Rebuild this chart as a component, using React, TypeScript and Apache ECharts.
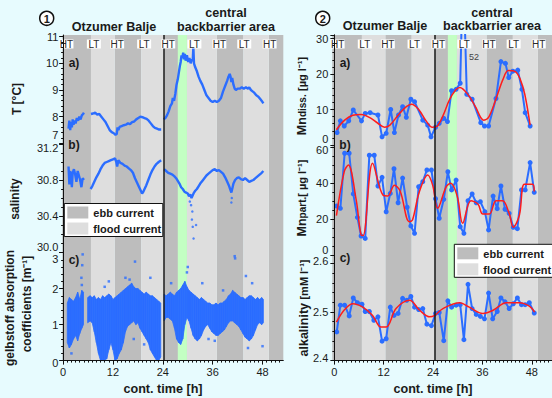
import React, { useEffect, useRef } from 'react';
import * as echarts from 'echarts';

// ---------------- shared tide information ----------------
const tideLabels = ['HT', 'LT', 'HT', 'LT', 'HT', 'LT', 'HT', 'LT', 'HT'];
const tideLabelHours = [0.8, 7.4, 13.0, 19.5, 25.3, 31.6, 37.6, 43.6, 49.7];
const ebbBands = [[-1, 6.7], [12.4, 18.8], [24.3, 29.8], [37.0, 43.4], [49.5, 60]];
const floodBands = [[6.7, 12.4], [18.8, 24.3], [29.8, 37.0], [43.4, 49.5]];
const greenBand = [27.6, 29.8];
const stationChange = 24.3;
const xTickLabels = [0, 12, 24, 36, 48];
const xMinorTicks = [1,2,3,4,5,6,7,8,9,10,11,13,14,15,16,17,18,19,20,21,22,23,25,26,27,28,29,30,31,32,33,34,35,37,38,39,40,41,42,43,44,45,46,47,49,50,51,52];

// ---------------- panel 1 : a) temperature ----------------
const temp1 = [[1.3,7.55],[1.5,7.85],[1.7,7.5],[1.9,7.8],[2.1,7.6],[2.3,7.9],[2.5,7.7],[2.8,7.85],[3.0,7.75],[3.3,7.95],[3.6,7.85],[3.9,8.0],[4.2,7.9],[4.5,8.05],[4.8,8.1],[5.0,8.15]];
const temp2 = [[6.7,8.1],[7.2,8.12],[7.7,8.15],[8.2,8.08],[8.7,8.1],[9.2,8.0],[9.7,7.9],[10.2,7.8],[10.7,7.65],[11.2,7.5],[11.7,7.42],[12.2,7.38],[12.6,7.32],[12.9,7.35],[13.1,7.6],[13.3,7.5],[13.6,7.62],[14.1,7.65],[14.6,7.68],[15.1,7.7],[15.6,7.75],[16.1,7.72],[16.6,7.8],[17.1,7.82],[17.6,7.9],[18.1,7.95],[18.6,8.0],[19.1,7.98],[19.6,7.95],[20.1,7.92],[20.6,7.85],[21.1,7.75],[21.6,7.65],[22.1,7.58],[22.6,7.55],[23.1,7.52],[23.6,7.52]];
const temp3 = [[24.2,7.9],[24.6,7.95],[25.0,8.05],[25.4,8.2],[25.8,8.4],[26.2,8.5],[26.4,8.7],[26.7,8.6],[27.0,8.85],[27.3,9.2],[27.6,9.4],[27.9,9.7],[28.1,9.9],[28.3,10.05],[28.5,10.3],[28.7,10.2],[28.9,10.4],[29.1,10.15],[29.3,10.35],[29.5,10.1],[29.8,10.3],[30.1,10.05],[30.4,10.2],[30.7,10.0],[31.0,10.15],[31.2,10.1],[31.35,10.6],[31.5,10.0],[31.8,9.85],[32.2,9.7],[32.6,9.5],[33.0,9.35],[33.5,9.2],[34.0,9.0],[34.5,8.8],[35.0,8.7],[35.5,8.6],[36.0,8.55],[36.5,8.6],[37.0,8.55],[37.5,8.6],[38.0,8.7],[38.5,8.95],[39.0,9.15],[39.5,9.35],[39.8,9.5],[40.1,9.6],[40.3,9.5],[40.5,9.3],[40.7,9.45],[41.0,9.2],[41.3,9.05],[41.6,9.0],[42.0,9.05],[42.5,9.05],[43.0,9.1],[43.5,9.05],[44.0,9.1],[44.5,9.05],[44.8,9.1],[45.2,9.0],[45.6,8.95],[46.0,8.9],[46.5,8.8],[47.0,8.75],[47.5,8.65],[48.0,8.55],[48.2,8.5]];

// ---------------- panel 1 : b) salinity ----------------
const sal1 = [[1.3,30.95],[1.5,30.75],[1.7,30.9],[1.9,30.85],[2.1,30.72],[2.3,30.88],[2.6,30.92],[2.9,30.86],[3.2,30.78],[3.5,30.9],[3.8,30.85],[4.1,30.8],[4.4,30.72],[4.7,30.82],[5.0,30.8]];
const sal2 = [[6.6,30.7],[7.0,30.73],[7.5,30.78],[8.0,30.83],[8.5,30.87],[9.0,30.92],[9.5,30.96],[10.0,30.99],[10.5,31.0],[11.0,31.01],[11.5,31.02],[12.0,31.03],[12.5,31.04],[12.8,31.0],[13.0,30.95],[13.3,31.02],[13.8,30.99],[14.3,30.98],[14.8,30.96],[15.3,30.95],[15.8,30.93],[16.3,30.91],[16.8,30.88],[17.3,30.82],[17.8,30.77],[18.3,30.72],[18.7,30.68],[19.0,30.65],[19.3,30.67],[19.6,30.7],[20.0,30.74],[20.5,30.8],[21.0,30.86],[21.5,30.91],[22.0,30.95],[22.5,30.98],[23.0,31.0],[23.6,31.02]];
const sal3 = [[24.3,30.92],[24.8,30.9],[25.3,30.88],[25.8,30.87],[26.3,30.86],[26.8,30.84],[27.2,30.82],[27.6,30.79],[28.0,30.76],[28.4,30.72],[28.8,30.7],[29.2,30.67],[29.6,30.66],[30.0,30.65],[30.3,30.62],[30.6,30.64],[30.9,30.6],[31.2,30.63],[31.5,30.66],[31.8,30.68],[32.2,30.7],[32.6,30.73],[33.0,30.76],[33.5,30.79],[34.0,30.82],[34.5,30.85],[35.0,30.87],[35.5,30.89],[36.0,30.91],[36.5,30.92],[37.0,30.9],[37.5,30.91],[38.0,30.89],[38.5,30.87],[39.0,30.83],[39.5,30.78],[39.9,30.74],[40.2,30.7],[40.5,30.66],[40.7,30.7],[41.0,30.76],[41.4,30.8],[41.8,30.82],[42.3,30.83],[42.8,30.81],[43.3,30.8],[43.8,30.82],[44.3,30.8],[44.8,30.78],[45.3,30.79],[45.8,30.8],[46.3,30.82],[46.8,30.84],[47.3,30.86],[47.8,30.88],[48.2,30.9]];
const salOutliers = [[31.0,30.36],[31.2,30.28],[31.4,30.15],[32.0,30.3],[31.1,30.45],[30.8,30.52],[30.5,30.56],[40.5,30.55],[40.6,30.6]];

// ---------------- panel 1 : c) gelbstoff (range of the dense cloud) ----------------
const gelbHours1 = [1.0,1.5,2.0,2.5,3.0,3.5,4.0,4.5,4.9];
const gelbLow1 = [0.5,0.35,0.45,0.6,0.7,0.55,0.75,0.9,1.0];
const gelbHigh1 = [1.6,1.75,1.7,1.65,1.75,1.9,1.7,1.95,1.9];
const gelbHours2 = [5.9,6.5,7.0,7.5,8.0,8.5,9.0,9.5,10.0,10.5,11.0,11.5,12.0,12.5,13.0,13.5,14.0,14.5,15.0,15.5,16.0,16.5,17.0,17.5,18.0,18.5,19.0,19.5,20.0,20.5,21.0,21.5,22.0,22.5,23.0,23.5];
const gelbLow2 = [1.05,1.1,1.05,0.8,0.5,0.2,0.0,0.0,0.0,0.05,0.3,0.5,0.3,0.0,0.05,0.2,0.3,0.5,0.8,0.95,1.0,1.05,1.1,1.0,1.05,0.9,0.8,0.7,0.6,0.5,0.3,0.2,0.1,0.0,0.0,0.1];
const gelbHigh2 = [1.75,1.8,1.75,1.8,1.7,1.75,1.7,1.8,1.75,1.8,1.85,1.8,1.7,1.75,1.8,1.85,1.9,1.95,2.0,2.05,2.1,2.15,2.05,2.0,2.0,1.95,1.9,1.85,1.9,1.85,1.8,1.8,1.75,1.7,1.65,1.6];
const gelbHours3 = [24.3,24.8,25.3,25.8,26.3,26.8,27.3,27.8,28.3,28.8,29.3,29.8,30.3,30.8,31.3,31.8,32.3,32.8,33.3,33.8,34.3,34.8,35.3,35.8,36.3,36.8,37.3,37.8,38.3,38.8,39.3,39.8,40.3,40.8,41.3,41.8,42.3,42.8,43.3,43.8,44.3,44.8,45.3,45.8,46.3,46.8,47.3,47.8,48.2];
const gelbLow3 = [1.1,1.2,1.2,1.15,1.1,0.9,0.6,0.5,0.45,0.6,1.0,1.2,1.1,0.9,0.7,0.6,0.55,0.6,0.7,0.85,0.95,1.0,0.9,0.8,0.75,0.7,0.7,0.75,0.8,0.85,0.95,1.05,1.1,1.1,1.05,1.0,0.95,0.85,0.75,0.65,0.6,0.55,0.6,0.7,0.85,1.0,1.05,1.0,1.05];
const gelbHigh3 = [1.85,1.8,1.85,1.9,1.85,1.8,1.9,1.95,2.0,2.1,2.2,2.05,1.95,1.9,1.85,1.8,1.75,1.7,1.75,1.7,1.65,1.6,1.6,1.55,1.55,1.6,1.55,1.6,1.6,1.65,1.7,1.8,1.85,1.95,1.9,1.85,1.8,1.75,1.75,1.7,1.75,1.8,1.8,1.75,1.7,1.75,1.7,1.75,1.7];
const gelbScatter = [[4.6,2.65],[4.7,2.95],[4.4,2.3],[4.5,2.1],[10.0,2.05],[11.0,2.2],[15.0,2.3],[16.0,2.25],[17.3,2.75],[21.0,2.3],[26.0,2.15],[29.8,2.45],[30.0,2.6],[33.5,2.15],[38.5,1.95],[41.3,2.9],[41.4,2.84],[44.0,2.35],[45.5,2.15],[36.5,0.55],[48.0,0.4],[17.0,0.6],[19.5,0.45],[35.0,0.6],[44.5,0.35],[2.0,0.2],[12.8,0.15]];

// ---------------- panel 2 : a) dissolved Mn ----------------
const mnDiss = [[0.66,3.5],[1.46,6.8],[2.4,5.35],[3.5,6.8],[4.6,9.86],[6.6,6.8],[7.5,8.9],[8.7,9.1],[10.6,8.45],[11.6,2.3],[12.6,3.3],[13.7,10.0],[14.6,3.5],[15.6,8.45],[16.6,10.8],[17.5,7.8],[18.6,12.9],[19.5,12.2],[21.5,7.0],[22.7,5.6],[23.5,2.3],[24.6,5.0],[25.5,6.1],[26.6,7.5],[27.5,6.6],[28.5,15.3],[29.6,15.7],[30.6,17.4],[31.3,52],[32.2,14.3],[33.5,12.9],[35.6,6.3],[36.5,5.35],[37.5,5.35],[39.3,13.1],[40.5,23.5],[41.6,23.0],[42.4,19.0],[43.4,20.8],[44.6,21.1],[45.6,15.7],[46.4,9.1],[47.6,5.35]];
const mnDissFit = [[0.5,4.3],[2.5,7.0],[4.5,8.4],[6.5,8.6],[8.5,7.8],[10.5,6.2],[12.2,5.0],[13.5,5.6],[15.5,8.4],[17.5,10.8],[18.8,11.5],[20.5,10.0],[22.3,6.8],[23.8,5.0],[25.0,5.3],[26.5,8.5],[28.0,12.8],[29.5,15.5],[30.5,16.2],[32.5,14.2],[34.3,10.8],[36.3,7.0],[37.5,7.8],[39.3,13.0],[41.0,18.5],[42.3,21.0],[44.0,20.7],[45.2,18.5],[46.3,14.3],[47.6,5.6]];

// ---------------- panel 2 : b) particulate Mn ----------------
const mnPart = [[0.58,27.4],[1.46,26.1],[2.5,56.7],[3.6,56.7],[4.6,34.1],[5.6,21.1],[6.5,10.7],[7.5,9.4],[8.5,55.6],[9.7,55.6],[10.6,38.5],[11.6,43.3],[12.6,24.2],[13.6,34.4],[14.5,48.1],[15.5,29.2],[16.6,42.9],[17.7,26.7],[18.6,16.3],[19.5,12.2],[20.5,38.1],[21.5,40.9],[22.5,47.4],[23.6,47.4],[24.6,31.4],[25.5,20.6],[26.6,31.1],[27.6,46.4],[28.5,36.3],[29.6,41.8],[30.6,15.9],[31.5,12.2],[32.5,30.3],[33.5,34.1],[34.5,29.2],[35.5,29.8],[36.6,24.2],[37.5,14.1],[38.6,32.9],[39.6,25.9],[40.5,38.5],[41.5,25.6],[42.5,23.3],[43.5,15.6],[44.5,14.8],[45.5,36.3],[46.4,36.3],[47.6,51.5],[48.6,35.0]];
const mnPartFit = [[0.5,22.0],[2.4,46.5],[3.4,50.2],[5.3,30.9],[6.5,11.3],[7.0,11.0],[9.3,51.1],[11.8,33.5],[13.0,33.0],[14.6,38.9],[16.0,35.7],[18.2,18.7],[19.0,19.6],[20.6,34.8],[22.7,44.6],[23.9,39.0],[25.1,26.1],[27.2,38.1],[28.3,40.0],[29.9,32.6],[31.2,17.8],[33.2,30.3],[34.9,28.5],[36.1,22.9],[37.7,22.9],[39.3,30.3],[40.9,30.3],[42.5,23.3],[43.5,15.6],[45.0,22.4],[46.2,39.5],[48.2,39.5],[48.6,35.4]];

// ---------------- panel 2 : c) alkalinity ----------------
const alk = [[0.58,2.459],[1.46,2.514],[2.5,2.514],[3.6,2.492],[4.6,2.529],[5.6,2.519],[6.7,2.516],[7.5,2.501],[8.5,2.501],[9.6,2.483],[10.6,2.49],[11.6,2.44],[12.6,2.445],[13.6,2.51],[14.5,2.493],[15.5,2.497],[16.6,2.528],[17.6,2.524],[18.6,2.532],[19.5,2.51],[20.5,2.505],[21.5,2.507],[22.5,2.475],[23.6,2.472],[24.6,2.497],[25.5,2.499],[26.6,2.441],[27.6,2.523],[28.5,2.51],[29.6,2.514],[30.6,2.515],[31.5,2.443],[32.5,2.557],[33.5,2.507],[34.5,2.495],[35.5,2.491],[36.5,2.486],[37.5,2.539],[38.5,2.486],[39.6,2.501],[40.5,2.529],[41.5,2.521],[42.5,2.507],[43.5,2.517],[44.5,2.529],[45.5,2.515],[46.4,2.515],[47.4,2.519],[48.6,2.498]];
const alkFit = [[0.5,2.479],[2.5,2.505],[4.5,2.517],[6.9,2.51],[9.3,2.493],[11.3,2.469],[12.6,2.469],[15.0,2.507],[18.3,2.524],[20.8,2.503],[23.2,2.49],[24.4,2.493],[26.4,2.507],[30.5,2.519],[32.8,2.51],[36.1,2.497],[38.5,2.503],[41.8,2.519],[45.0,2.519],[47.4,2.512],[48.7,2.5]];

// ---------------- styling ----------------
const FONT = '"Liberation Sans", Arial, Helvetica, sans-serif';
const BLUE = '#2b6dff';
const RED = '#ff1c1c';
const EBB = '#bdbdbd';
const FLOOD = '#dedede';
const GREEN = '#c3ffc3';
const BG = '#e7fbfe';
const TXT = '#1a1a1a';

const P1 = { left: 62.3, width: 221, xMin: -0.2, xMax: 53.0 };
const P2 = { left: 332.3, width: 219.7, xMin: -0.5, xMax: 52.92 };
const BG_TOP = 35;
const BG_H = 325.6;
const TIDE_Y = 1 - (44 - BG_TOP) / BG_H;

function bandAreas(xMin: number, xMax: number) {
  const c = (v: number) => Math.max(xMin, Math.min(xMax, v));
  const items: any[] = [];
  ebbBands.forEach(([a, b]) => items.push([{ xAxis: c(a), itemStyle: { color: EBB } }, { xAxis: c(b) }]));
  floodBands.forEach(([a, b]) => items.push([{ xAxis: c(a), itemStyle: { color: FLOOD } }, { xAxis: c(b) }]));
  items.push([{ xAxis: greenBand[0], itemStyle: { color: GREEN } }, { xAxis: greenBand[1] }]);
  return items;
}

function shiftRich(d: number) {
  return d >= 0
    ? { fontSize: 11, color: TXT, fontFamily: FONT, padding: [2 * d, 0, 0, 0] }
    : { fontSize: 11, color: TXT, fontFamily: FONT, padding: [0, 0, -2 * d, 0] };
}

function yAxis(grid: number, min: number, max: number, interval: number, dec: number, shifts: Record<string, number>, minorSplit: number, showMax = true) {
  const rich: any = {};
  Object.keys(shifts).forEach((k, i) => { rich['s' + i] = shiftRich(shifts[k]); });
  return {
    type: 'value', gridIndex: grid, min, max, interval, z: 10,
    axisLine: { show: true, lineStyle: { color: '#111', width: 1 } },
    axisTick: { show: true, inside: false, length: 4, lineStyle: { color: '#111' } },
    minorTick: { show: true, splitNumber: minorSplit, length: 2, lineStyle: { color: '#111' } },
    splitLine: { show: false },
    axisLabel: {
      show: true, margin: 4, fontSize: 11, color: TXT, fontFamily: FONT, showMaxLabel: showMax,
      formatter: (v: number) => {
        const s = v.toFixed(dec);
        const keys = Object.keys(shifts);
        const i = keys.indexOf(s);
        return i >= 0 ? '{s' + i + '|' + s + '}' : s;
      },
      rich,
    },
  };
}

function xAxisBg(grid: number, p: any) {
  return {
    type: 'value', gridIndex: grid, min: p.xMin, max: p.xMax, z: 10,
    axisLine: { show: true, onZero: false, lineStyle: { color: '#111', width: 1 } },
    axisTick: { show: true, inside: false, length: 4, customValues: xTickLabels, lineStyle: { color: '#111' } },
    axisLabel: { show: true, customValues: xTickLabels, margin: 6, fontSize: 11, color: TXT, fontFamily: FONT },
    splitLine: { show: false },
  };
}
function xAxisHidden(grid: number, p: any) {
  return { type: 'value', gridIndex: grid, min: p.xMin, max: p.xMax, show: false };
}
function xAxisMinor(grid: number, p: any) {
  return {
    type: 'value', gridIndex: grid, min: p.xMin, max: p.xMax, z: 10,
    axisLine: { show: false, onZero: false },
    axisTick: { show: true, inside: false, length: 2, customValues: xMinorTicks, lineStyle: { color: '#111' } },
    axisLabel: { show: false },
    splitLine: { show: false },
  };
}

function bgSeries(g: number, p: any) {
  return [
    {
      type: 'line', xAxisIndex: g, yAxisIndex: g, data: [], silent: true, z: 1,
      markArea: { silent: true, data: bandAreas(p.xMin, p.xMax), itemStyle: { opacity: 1 } },
      markLine: {
        silent: true, symbol: ['none', 'none'], label: { show: false },
        lineStyle: { color: '#1a1a1a', width: 1.5, type: 'solid' }, data: [{ xAxis: stationChange }],
      },
    },
    {
      // HT / LT marks: white box with label, placed through the axis scales
      type: 'custom', xAxisIndex: g, yAxisIndex: g, z: 6, silent: true,
      data: tideLabelHours.map((h) => [h, TIDE_Y]),
      renderItem: (params: any, api: any) => {
        const c = api.coord([api.value(0), api.value(1)]);
        return {
          type: 'group',
          children: [
            { type: 'rect', shape: { x: c[0] - 7, y: c[1] - 4.5, width: 14, height: 9 }, style: { fill: '#ffffff' } },
            { type: 'text', x: c[0], y: c[1] + 0.5,
              style: { text: tideLabels[params.dataIndex], fill: '#2a2a2a', font: `10px ${FONT}`, align: 'center', verticalAlign: 'middle' } },
          ],
        };
      },
    },
  ];
}

function lineS(x: number, data: number[][], extra: any = {}) {
  return { type: 'line', xAxisIndex: x, yAxisIndex: x, data, showSymbol: false, z: 3, silent: true,
    lineStyle: { color: BLUE, width: 2.4 }, itemStyle: { color: BLUE }, ...extra };
}

// band of the gelbstoff cloud: trapezoids between consecutive (hour, low, high) samples
function gelbBand(hours: number[], low: number[], high: number[]) {
  const data = hours.slice(0, -1).map((h, i) => [h, low[i], high[i], hours[i + 1], low[i + 1], high[i + 1]]);
  return {
    type: 'custom', xAxisIndex: 3, yAxisIndex: 3, z: 3, silent: true, data,
    encode: { x: [0, 3], y: [1, 2, 4, 5] },
    renderItem: (_params: any, api: any) => {
      const a = api.coord([api.value(0), api.value(2)]);
      const b = api.coord([api.value(3), api.value(5)]);
      const c = api.coord([api.value(3), api.value(4)]);
      const d = api.coord([api.value(0), api.value(1)]);
      return { type: 'polygon', shape: { points: [a, b, c, d] }, style: { fill: BLUE, stroke: BLUE, lineWidth: 0.8 } };
    },
  };
}

function dotted(x: number, data: number[][]) {
  return { type: 'line', xAxisIndex: x, yAxisIndex: x, data, z: 3, silent: true, symbol: 'circle', symbolSize: 5,
    showSymbol: true, lineStyle: { color: BLUE, width: 2 }, itemStyle: { color: BLUE } };
}
function fit(x: number, data: number[][]) {
  return { type: 'line', xAxisIndex: x, yAxisIndex: x, data, z: 4, silent: true, smooth: 0.35, showSymbol: false,
    lineStyle: { color: RED, width: 1.5 } };
}

function t(text: string, x: number, y: number, extra: any = {}, rot = 0) {
  return { type: 'text', x, y, rotation: rot, silent: true, z: 100,
    style: { text, fill: TXT, font: `bold 12px ${FONT}`, align: 'center', verticalAlign: 'middle', ...extra } };
}
const R = Math.PI / 2;
const TITLE = `bold 12.6px ${FONT}`;
const richUnits = {
  b: { fontSize: 12.5, fontWeight: 'bold', fontFamily: FONT, fill: TXT },
  s: { fontSize: 10, fontWeight: 'bold', fontFamily: FONT, fill: TXT },
  u: { fontSize: 11, fontWeight: 'bold', fontFamily: FONT, fill: TXT },
};

function legend(x: number, y: number, w: number) {
  return {
    type: 'group', x, y, silent: true, z: 100,
    children: [
      { type: 'rect', z: 100, shape: { x: 0, y: 0, width: w, height: 33 }, style: { fill: '#fff', stroke: '#111', lineWidth: 1 } },
      { type: 'rect', z: 101, shape: { x: 3, y: 3, width: 21, height: 12 }, style: { fill: EBB } },
      { type: 'rect', z: 101, shape: { x: 3, y: 19, width: 21, height: 12 }, style: { fill: FLOOD } },
      { type: 'text', z: 101, x: 29, y: 9.5, style: { text: 'ebb current', font: `bold 11px ${FONT}`, fill: TXT, verticalAlign: 'middle' } },
      { type: 'text', z: 101, x: 29, y: 25.5, style: { text: 'flood current', font: `bold 11px ${FONT}`, fill: TXT, verticalAlign: 'middle' } },
    ],
  };
}

function circled(n: string, x: number, y: number) {
  return { type: 'group', x, y, silent: true, z: 100, children: [
    { type: 'circle', z: 100, shape: { cx: 0, cy: 0, r: 7 }, style: { fill: '#fff', stroke: '#111', lineWidth: 1.5 } },
    { type: 'text', z: 101, x: 0, y: 0.5, style: { text: n, font: `bold 11px ${FONT}`, fill: TXT, align: 'center', verticalAlign: 'middle' } },
  ] };
}

export default function App() {
  const ref = useRef<HTMLDivElement>(null);
  useEffect(() => {
    if (!ref.current) return;
    const chart = echarts.init(ref.current, undefined, { renderer: 'svg' });
    const grids = [
      { left: P1.left, width: P1.width, top: BG_TOP, height: BG_H },
      { left: P1.left, width: P1.width, top: 36.6, height: 106.8 },
      { left: P1.left, width: P1.width, top: 144, height: 108 },
      { left: P1.left, width: P1.width, top: 252.6, height: 108 },
      { left: P2.left, width: P2.width, top: BG_TOP, height: BG_H },
      { left: P2.left, width: P2.width, top: 35, height: 110 },
      { left: P2.left, width: P2.width, top: 147.3, height: 108 },
      { left: P2.left, width: P2.width, top: 263.4, height: 97.2 },
    ];
    const option: any = {
      animation: false,
      backgroundColor: BG,
      grid: grids.map((g) => ({ ...g, containLabel: false })),
      xAxis: [
        xAxisBg(0, P1), xAxisHidden(1, P1), xAxisHidden(2, P1), xAxisMinor(3, P1),
        xAxisBg(4, P2), xAxisHidden(5, P2), xAxisHidden(6, P2), xAxisMinor(7, P2),
      ],
      yAxis: [
        { type: 'value', gridIndex: 0, min: 0, max: 1, z: 10, axisLine: { show: true, lineStyle: { color: '#111' } }, axisTick: { show: false }, axisLabel: { show: false }, splitLine: { show: false } },
        yAxis(1, 7, 11, 1, 0, { '7': -8 }, 5),
        yAxis(2, 30.0, 31.2, 0.4, 1, { '31.2': 4, '30.0': -5 }, 4),
        yAxis(3, 0, 3, 1, 0, { '3': 6, '0': 2 }, 5),
        { type: 'value', gridIndex: 4, min: 0, max: 1, z: 10, axisLine: { show: true, lineStyle: { color: '#111' } }, axisTick: { show: false }, axisLabel: { show: false }, splitLine: { show: false } },
        yAxis(5, 0, 31, 10, 0, { '0': -6 }, 5, false),
        yAxis(6, 0, 60, 20, 0, { '60': 3, '0': -5 }, 4),
        yAxis(7, 2.4, 2.6, 0.1, 1, { '2.6': -2, '2.4': -3 }, 5),
      ],
      series: [
        ...bgSeries(0, P1),
        ...bgSeries(4, P2),
        lineS(1, temp1), lineS(1, temp2), lineS(1, temp3),
        lineS(2, sal1), lineS(2, sal2), lineS(2, sal3),
        { type: 'scatter', xAxisIndex: 2, yAxisIndex: 2, data: salOutliers, symbolSize: 2.5, z: 3, silent: true, itemStyle: { color: BLUE } },
        gelbBand(gelbHours1, gelbLow1, gelbHigh1),
        gelbBand(gelbHours2, gelbLow2, gelbHigh2),
        gelbBand(gelbHours3, gelbLow3, gelbHigh3),
        { type: 'scatter', xAxisIndex: 3, yAxisIndex: 3, data: gelbScatter, symbol: 'rect', symbolSize: 2.5, z: 3, silent: true, itemStyle: { color: BLUE } },
        dotted(5, mnDiss), fit(5, mnDissFit),
        dotted(6, mnPart), fit(6, mnPartFit),
        dotted(7, alk), fit(7, alkFit),
      ],
      graphic: [
        circled('1', 46.7, 18.3),
        circled('2', 322.7, 18.3),
        t('Otzumer Balje', 114, 26.5, { font: TITLE }),
        t('central', 226, 13, { font: TITLE }),
        t('backbarrier area', 226, 26.5, { font: TITLE }),
        t('Otzumer Balje', 385, 26, { font: TITLE }),
        t('central', 492, 13, { font: TITLE }),
        t('backbarrier area', 492, 26, { font: TITLE }),
        t('a)', 74, 63), t('b)', 74, 145), t('c)', 74, 260),
        t('a)', 345, 63), t('b)', 345, 145), t('c)', 345, 258),
        t('cont. time [h]', 163, 389, { font: TITLE }),
        t('cont. time [h]', 433, 389, { font: TITLE }),
        t('T [°C]', 16.5, 99, {}, R),
        t('salinity', 15, 199, {}, R),
        t('gelbstoff absorption', 10, 308, {}, R),
        t('coefficients [m⁻¹]', 27, 304, {}, R),
        { type: 'text', x: 302, y: 96, rotation: R, silent: true, z: 100,
          style: { text: '{b|Mn}{s|diss.} {u|[µg l⁻¹]}', rich: richUnits, align: 'center', verticalAlign: 'middle' } },
        { type: 'text', x: 302, y: 198, rotation: R, silent: true, z: 100,
          style: { text: '{b|Mn}{s|part.}{u|[ µg l⁻¹]}', rich: richUnits, align: 'center', verticalAlign: 'middle' } },
        { type: 'text', x: 304, y: 308, rotation: R, silent: true, z: 100,
          style: { text: '{b|alkalinity }{u|[mM l⁻¹]}', rich: richUnits, align: 'center', verticalAlign: 'middle' } },
        { type: 'text', x: 474, y: 57, silent: true, z: 100, style: { text: '52', font: `9px ${FONT}`, fill: '#444', align: 'center', verticalAlign: 'middle' } },
        legend(64.3, 203.5, 98.5),
        legend(454.3, 244.3, 100),
      ],
    };
    chart.setOption(option);
    return () => chart.dispose();
  }, []);
  return <div ref={ref} style={{ position: 'absolute', left: 0, top: 0, width: 552, height: 398 }} />;
}
